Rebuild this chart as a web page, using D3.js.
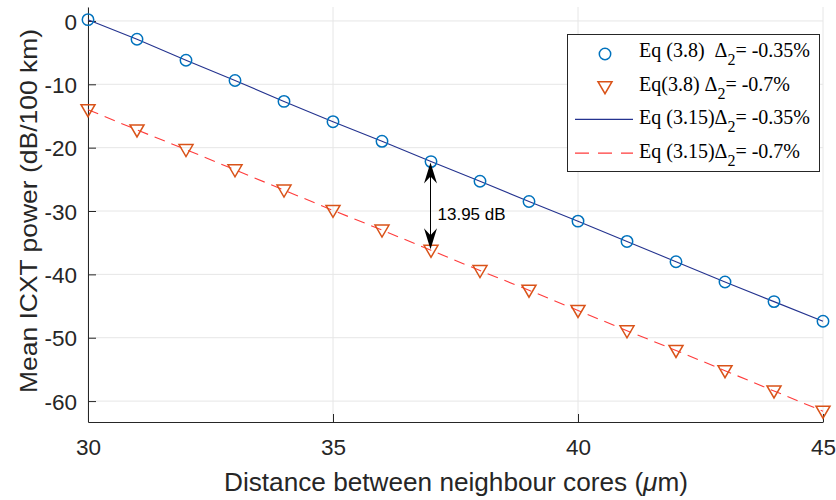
<!DOCTYPE html>
<html>
<head>
<meta charset="utf-8">
<script src="https://cdn.jsdelivr.net/npm/d3@7"></script>
<style>
  body { margin: 0; background: #fff; }
</style>
</head>
<body>
<script>
// distances (um)
var dist = [30,31,32,33,34,35,36,37,38,39,40,41,42,43,44,45];
// Eq (3.8) markers
var eq38a = [0.2,-2.9,-6.2,-9.4,-12.7,-15.9,-19.0,-22.2,-25.3,-28.5,-31.6,-34.8,-38.0,-41.2,-44.3,-47.4];
var eq38b = [-14.0,-17.2,-20.3,-23.5,-26.7,-29.9,-33.0,-36.2,-39.4,-42.5,-45.7,-48.9,-52.0,-55.2,-58.4,-61.6];
// Eq (3.15) lines
var eq315a = [0.2,-2.9,-6.2,-9.4,-12.7,-15.9,-19.0,-22.2,-25.3,-28.5,-31.6,-34.8,-38.0,-41.2,-44.3,-47.4];
var eq315b = [-14.0,-17.2,-20.3,-23.5,-26.7,-29.9,-33.0,-36.2,-39.4,-42.5,-45.7,-48.9,-52.0,-55.2,-58.4,-61.6];
var xTicks = [30,35,40,45];
var yTicks = [0,-10,-20,-30,-40,-50,-60];
var gap = 13.95, gapAt = 37;

var width = 836, height = 500;
var mLeft = 88, mRight = 823, mTop = 7, mBottom = 422;
var sans = "Arial, 'Liberation Sans', sans-serif";
var serif = "'Liberation Serif', 'Times New Roman', serif";

var svg = d3.select("body").append("svg")
    .attr("width", width)
    .attr("height", height);

var x = d3.scaleLinear().domain([30, 45]).range([mLeft, mRight]);
var y = d3.scaleLinear().domain([-63.3, 2.2]).range([mBottom, mTop]);

// grid
svg.append("g").selectAll("line").data(xTicks).enter().append("line")
    .attr("x1", d => x(d)).attr("x2", d => x(d))
    .attr("y1", mTop).attr("y2", mBottom)
    .attr("stroke", "#e6e6e6");
svg.append("g").selectAll("line").data(yTicks).enter().append("line")
    .attr("x1", mLeft).attr("x2", mRight)
    .attr("y1", d => y(d)).attr("y2", d => y(d))
    .attr("stroke", "#e6e6e6");

// axes
var fmt = d => String(d);
var xAxis = svg.append("g")
    .attr("transform", "translate(0," + mBottom + ")")
    .call(d3.axisBottom(x).tickValues(xTicks).tickFormat(fmt).tickSizeInner(-8).tickSizeOuter(0).tickPadding(17));
var yAxis = svg.append("g")
    .attr("transform", "translate(" + mLeft + ",0)")
    .call(d3.axisLeft(y).tickValues(yTicks).tickFormat(fmt).tickSizeInner(-8).tickSizeOuter(0).tickPadding(11));
[xAxis, yAxis].forEach(function(a){
  a.attr("font-family", sans).attr("font-size", 22.5);
  a.select(".domain").attr("stroke", "#262626");
  a.selectAll(".tick line").attr("stroke", "#262626");
  a.selectAll(".tick text").attr("fill", "#262626");
});
yAxis.selectAll(".tick text").attr("dy", "0.36em");

// lines
var line = d3.line().x((d, i) => x(dist[i])).y(d => y(d));
svg.append("path").datum(eq315a)
    .attr("d", line).attr("fill", "none")
    .attr("stroke", "#24338f").attr("stroke-width", 1.1);
svg.append("path").datum(eq315b)
    .attr("d", line).attr("fill", "none")
    .attr("stroke", "#ff3b3b").attr("stroke-width", 1.1)
    .attr("stroke-dasharray", "11,7");

// markers
svg.append("g").selectAll("circle").data(eq38a).enter().append("circle")
    .attr("cx", (d, i) => x(dist[i])).attr("cy", d => y(d))
    .attr("r", 5.7).attr("fill", "none")
    .attr("stroke", "#0072bd").attr("stroke-width", 1.5);

var tri = "M-7,-5L7,-5L0,7Z";
svg.append("g").selectAll("path").data(eq38b).enter().append("path")
    .attr("transform", (d, i) => "translate(" + x(dist[i]) + "," + y(d) + ")")
    .attr("d", tri).attr("fill", "none")
    .attr("stroke", "#d95319").attr("stroke-width", 1.5);

// annotation arrow
var iA = dist.indexOf(gapAt);
var ax = x(gapAt) - 0.5;
var y1 = y(eq38a[iA]) + 1, y2 = y(eq38b[iA]) - 1;
svg.append("line")
    .attr("x1", ax).attr("x2", ax).attr("y1", y1 + 10).attr("y2", y2 - 10)
    .attr("stroke", "#000").attr("stroke-width", 1);
svg.append("path")
    .attr("d", "M" + ax + "," + y1 + "L" + (ax - 6.5) + "," + (y1 + 21) + "L" + ax + "," + (y1 + 14) + "L" + (ax + 6.5) + "," + (y1 + 21) + "Z")
    .attr("fill", "#000");
svg.append("path")
    .attr("d", "M" + ax + "," + y2 + "L" + (ax - 6.5) + "," + (y2 - 21) + "L" + ax + "," + (y2 - 14) + "L" + (ax + 6.5) + "," + (y2 - 21) + "Z")
    .attr("fill", "#000");
svg.append("text")
    .attr("x", ax + 7).attr("y", 220)
    .attr("font-family", sans)
    .attr("font-size", 17).attr("fill", "#000")
    .text(gap.toFixed(2) + " dB");

// axis labels
svg.append("text")
    .attr("x", 456).attr("y", 491)
    .attr("text-anchor", "middle")
    .attr("font-family", sans)
    .attr("font-size", 26).attr("fill", "#262626")
    .attr("textLength", 464).attr("lengthAdjust", "spacingAndGlyphs")
    .html("Distance between neighbour cores (<tspan font-style='italic'>μ</tspan>m)");
svg.append("text")
    .attr("transform", "translate(37,211) rotate(-90)")
    .attr("text-anchor", "middle")
    .attr("font-family", sans)
    .attr("font-size", 24.5).attr("fill", "#262626")
    .attr("textLength", 364).attr("lengthAdjust", "spacingAndGlyphs")
    .text("Mean ICXT power (dB/100 km)");

// legend
var legend = [
  {pre: "Eq (3.8)  ", post: "= -0.35%", kind: "circle"},
  {pre: "Eq(3.8) ", post: "= -0.7%", kind: "tri"},
  {pre: "Eq (3.15)", post: "= -0.35%", kind: "solid"},
  {pre: "Eq (3.15)", post: "= -0.7%", kind: "dash"}
];
var lg = svg.append("g");
lg.append("rect")
    .attr("x", 567.5).attr("y", 34.5).attr("width", 252).attr("height", 137)
    .attr("fill", "#fff").attr("stroke", "#262626").attr("stroke-width", 1);
legend.forEach(function(d, i){
  var base = 57 + i * 33.7;
  if (d.kind === "circle") {
    lg.append("circle").attr("cx", 605).attr("cy", base - 3).attr("r", 5.7)
      .attr("fill", "none").attr("stroke", "#0072bd").attr("stroke-width", 1.5);
  } else if (d.kind === "tri") {
    lg.append("path").attr("transform", "translate(605," + (base - 4) + ")").attr("d", tri)
      .attr("fill", "none").attr("stroke", "#d95319").attr("stroke-width", 1.5);
  } else {
    lg.append("line").attr("x1", 575).attr("x2", 633).attr("y1", base - 5).attr("y2", base - 5)
      .attr("stroke", d.kind === "solid" ? "#24338f" : "#ff3b3b").attr("stroke-width", 1.1)
      .attr("stroke-dasharray", d.kind === "dash" ? "14,9" : null);
  }
  var t = lg.append("text").attr("x", 639).attr("y", base)
    .attr("font-family", serif)
    .attr("font-size", 20).attr("fill", "#000")
    .attr("xml:space", "preserve").style("white-space", "pre");
  t.append("tspan").text(d.pre);
  t.append("tspan").text("Δ");
  t.append("tspan").attr("dy", 8).attr("font-size", 16).text("2");
  t.append("tspan").attr("dy", -8).text(d.post);
});
</script>
</body>
</html>
